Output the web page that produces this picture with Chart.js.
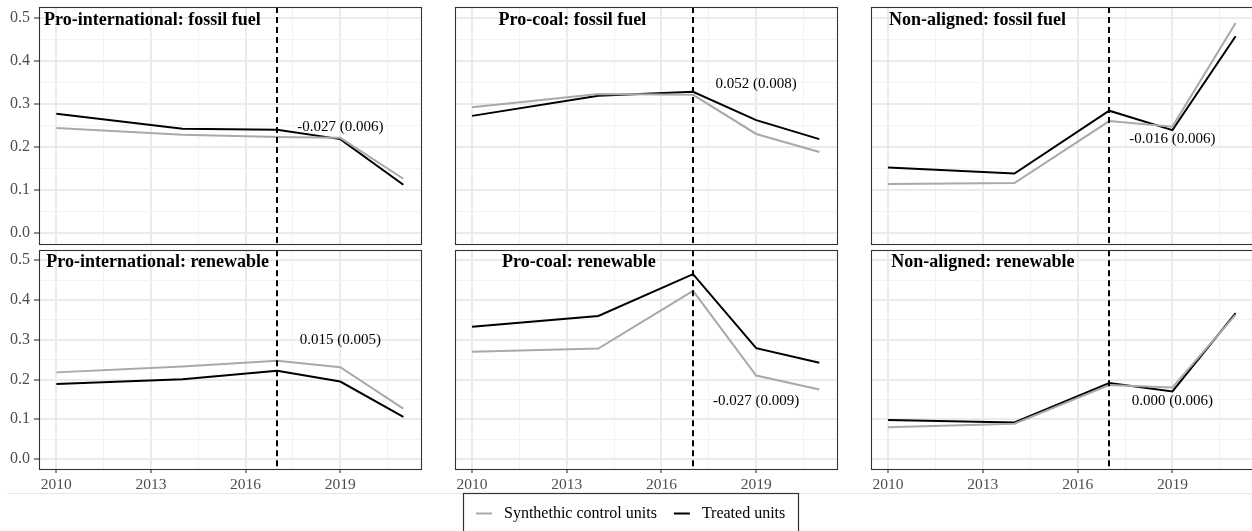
<!DOCTYPE html>
<html>
<head>
<meta charset="utf-8">
<script src="https://cdn.jsdelivr.net/npm/chart.js@4/dist/chart.umd.min.js"></script>
<style>
  html, body { margin: 0; padding: 0; background: #ffffff; }
  #wrap { position: relative; width: 1252px; height: 531px; overflow: hidden; background: #ffffff; }
  #wrap canvas { position: absolute; left: 0; top: 0; }
</style>
</head>
<body>
<div id="wrap"></div>
<script>
// ---- data -------------------------------------------------------------
const years = [2010, 2014, 2017, 2019, 2021];
const treatmentYear = 2017;

const panelTitles = [
  'Pro-international: fossil fuel', 'Pro-coal: fossil fuel', 'Non-aligned: fossil fuel',
  'Pro-international: renewable', 'Pro-coal: renewable', 'Non-aligned: renewable'
];

// synthetic control series
const synthIntlFossil = [0.244, 0.228, 0.223, 0.221, 0.126];
const synthCoalFossil = [0.292, 0.323, 0.321, 0.230, 0.188];
const synthNonFossil  = [0.114, 0.116, 0.260, 0.247, 0.488];
const synthIntlRenew  = [0.218, 0.233, 0.247, 0.231, 0.127];
const synthCoalRenew  = [0.270, 0.278, 0.423, 0.210, 0.175];
const synthNonRenew   = [0.080, 0.089, 0.186, 0.180, 0.363];

// treated series
const treatIntlFossil = [0.277, 0.242, 0.240, 0.218, 0.112];
const treatCoalFossil = [0.272, 0.319, 0.328, 0.262, 0.218];
const treatNonFossil  = [0.152, 0.138, 0.284, 0.239, 0.457];
const treatIntlRenew  = [0.189, 0.201, 0.222, 0.195, 0.106];
const treatCoalRenew  = [0.333, 0.360, 0.465, 0.279, 0.242];
const treatNonRenew   = [0.098, 0.092, 0.191, 0.170, 0.367];

// estimated effect (standard error) per panel
const effectLabels = ['-0.027 (0.006)', '0.052 (0.008)', '-0.016 (0.006)',
                      '0.015 (0.005)', '-0.027 (0.009)', '0.000 (0.006)'];

const seriesLabels = ['Synthethic control units', 'Treated units'];

// tick labels
const xTickValues = [2010, 2013, 2016, 2019];
const xTickLabels = ['2010', '2013', '2016', '2019'];
const yTickValues = [0, 0.1, 0.2, 0.3, 0.4, 0.5];
const yTickLabels = ['0.0', '0.1', '0.2', '0.3', '0.4', '0.5'];

const synthSeries = [synthIntlFossil, synthCoalFossil, synthNonFossil, synthIntlRenew, synthCoalRenew, synthNonRenew];
const treatSeries = [treatIntlFossil, treatCoalFossil, treatNonFossil, treatIntlRenew, treatCoalRenew, treatNonRenew];

// ---- layout -----------------------------------------------------------
const W = 1254, H = 531;
const colBounds = [[39, 420.7], [454.7, 836.7], [870.7, 1253]];
const rowBounds = [[7, 243.7], [250.3, 469]];
const xRange = [2009.45, 2021.55];
const yRange = [-0.025, 0.525];
const titleAnchorX = [2009.61, 2010.84, 2010.03, 2009.68, 2010.95, 2010.1];
const titleAnchorY = 0.494;
const effectAnchorX = 2019;
const effectAnchorY = [0.245, 0.347, 0.218, 0.300, 0.147, 0.147];

const FONT = "'Liberation Serif', 'Times New Roman', serif";
Chart.defaults.font.family = FONT;

const near = (a, b) => Math.abs(a - b) < 1e-6;
const xMinor = xTickValues.map(v => v + 1.5);
const yMinor = yTickValues.slice(0, -1).map(v => v + 0.05);
const xAll = xTickValues.concat(xMinor).sort((a, b) => a - b);
const yAll = yTickValues.concat(yMinor).sort((a, b) => a - b);
const isMajorX = v => xTickValues.some(m => near(m, v));
const isMajorY = v => yTickValues.some(m => near(m, v));

function gridStyle(isMajor) {
  return {
    color: ctx => (ctx.tick && isMajor(ctx.tick.value)) ? '#ebebeb' : '#f3f3f3',
    lineWidth: ctx => (ctx.tick && isMajor(ctx.tick.value)) ? 2 : 1,
    tickColor: ctx => (ctx.tick && isMajor(ctx.tick.value)) ? '#333333' : 'rgba(0,0,0,0)',
    tickWidth: 1.1
  };
}

// panel frame, reference line and text labels
const panelDecor = {
  id: 'panelDecor',
  afterDatasetsDraw(chart, args, opts) {
    const { ctx, chartArea: a, scales: { x, y } } = chart;
    const i = opts.index;
    ctx.save();
    // dashed treatment line
    ctx.beginPath();
    ctx.rect(a.left, a.top, a.right - a.left, a.bottom - a.top);
    ctx.clip();
    const xv = Math.round(x.getPixelForValue(treatmentYear));
    ctx.strokeStyle = '#000000';
    ctx.lineWidth = 2;
    ctx.setLineDash([6, 4]);
    ctx.beginPath();
    ctx.moveTo(xv, a.top);
    ctx.lineTo(xv, a.bottom);
    ctx.stroke();
    ctx.restore();

    ctx.save();
    // effect label
    ctx.fillStyle = '#000000';
    ctx.font = `15px ${FONT}`;
    ctx.textAlign = 'center';
    ctx.textBaseline = 'middle';
    ctx.fillText(effectLabels[i], x.getPixelForValue(effectAnchorX), y.getPixelForValue(effectAnchorY[i]));
    // panel title
    ctx.font = `bold 18px ${FONT}`;
    ctx.textAlign = 'left';
    ctx.fillText(panelTitles[i], x.getPixelForValue(titleAnchorX[i]), y.getPixelForValue(titleAnchorY));
    // frame
    ctx.strokeStyle = '#333333';
    ctx.lineWidth = 1.1;
    ctx.strokeRect(Math.round(a.left) + 0.5, Math.round(a.top) + 0.5,
                   Math.round(a.right - a.left), Math.round(a.bottom - a.top));
    ctx.restore();
  }
};

// shared legend at the foot of the figure
const footLegend = {
  id: 'footLegend',
  afterDraw(chart) {
    const ctx = chart.ctx;
    const ds = chart.data.datasets;
    ctx.save();
    ctx.strokeStyle = '#e6e6e6';
    ctx.lineWidth = 1;
    ctx.beginPath();
    ctx.moveTo(7, 493.5);
    ctx.lineTo(W, 493.5);
    ctx.stroke();

    ctx.font = `16px ${FONT}`;
    const padL = 13, padR = 13, sw = 16, gapText = 12, gapItem = 17;
    const widths = ds.map(d => ctx.measureText(d.label).width);
    const total = padL + padR + ds.length * (sw + gapText) + widths.reduce((s, w) => s + w, 0) + gapItem * (ds.length - 1);
    const left = Math.round(631 - total / 2);
    const top = 493;
    ctx.fillStyle = '#ffffff';
    ctx.fillRect(left, top, total, 60);
    ctx.strokeStyle = '#333333';
    ctx.lineWidth = 1.2;
    ctx.strokeRect(left + 0.5, top + 0.5, Math.round(total), 60);

    let cx = left + padL;
    const cy = 513.5;
    ds.forEach((d, k) => {
      ctx.strokeStyle = d.borderColor;
      ctx.lineWidth = 2;
      ctx.beginPath();
      ctx.moveTo(cx, cy);
      ctx.lineTo(cx + sw, cy);
      ctx.stroke();
      cx += sw + gapText;
      ctx.fillStyle = '#000000';
      ctx.textAlign = 'left';
      ctx.textBaseline = 'middle';
      ctx.fillText(d.label, cx, cy);
      cx += widths[k] + gapItem;
    });
    ctx.restore();
  }
};

const wrap = document.getElementById('wrap');

function makePanel(i) {
  const row = Math.floor(i / 3), col = i % 3;
  const [L, R] = colBounds[col];
  const [T, B] = rowBounds[row];
  const canvas = document.createElement('canvas');
  canvas.width = W; canvas.height = H;
  canvas.style.width = W + 'px'; canvas.style.height = H + 'px';
  wrap.appendChild(canvas);

  const showX = row === 1;
  const showY = col === 0;

  return new Chart(canvas, {
    type: 'line',
    data: {
      datasets: [
        {
          label: seriesLabels[0],
          data: years.map((yr, k) => ({ x: yr, y: synthSeries[i][k] })),
          borderColor: '#a9a9a9', borderWidth: 2, pointRadius: 0, tension: 0, fill: false
        },
        {
          label: seriesLabels[1],
          data: years.map((yr, k) => ({ x: yr, y: treatSeries[i][k] })),
          borderColor: '#000000', borderWidth: 2, pointRadius: 0, tension: 0, fill: false
        }
      ]
    },
    options: {
      responsive: false,
      animation: false,
      devicePixelRatio: 1,
      events: [],
      layout: { padding: { left: 0, top: T, right: W - R, bottom: 0 } },
      plugins: { legend: { display: false }, tooltip: { enabled: false }, panelDecor: { index: i } },
      scales: {
        x: {
          type: 'linear',
          min: xRange[0], max: xRange[1],
          afterBuildTicks: s => { s.ticks = xAll.map(v => ({ value: v })); },
          afterFit: s => {
            s.height = H - B;
            s.paddingLeft = s.paddingRight = s.paddingTop = s.paddingBottom = 0;
          },
          ticks: {
            display: showX, autoSkip: false, maxRotation: 0, minRotation: 0, padding: 3,
            color: '#4d4d4d', font: { family: FONT, size: 15.5 },
            callback: v => { const k = xTickValues.findIndex(m => near(m, v)); return k >= 0 ? xTickLabels[k] : ''; }
          },
          grid: Object.assign({ drawTicks: showX, tickLength: 4 }, gridStyle(isMajorX)),
          border: { display: false }
        },
        y: {
          type: 'linear',
          min: yRange[0], max: yRange[1],
          afterBuildTicks: s => { s.ticks = yAll.map(v => ({ value: v })); },
          afterFit: s => {
            s.width = L;
            s.paddingLeft = s.paddingRight = s.paddingTop = s.paddingBottom = 0;
          },
          ticks: {
            display: showY, autoSkip: false, padding: 4,
            color: '#4d4d4d', font: { family: FONT, size: 16 },
            callback: v => { const k = yTickValues.findIndex(m => near(m, v)); return k >= 0 ? yTickLabels[k] : ''; }
          },
          grid: Object.assign({ drawTicks: showY, tickLength: 5 }, gridStyle(isMajorY)),
          border: { display: false }
        }
      }
    },
    plugins: i === 5 ? [panelDecor, footLegend] : [panelDecor]
  });
}

for (let i = 0; i < 6; i++) makePanel(i);
</script>
</body>
</html>
